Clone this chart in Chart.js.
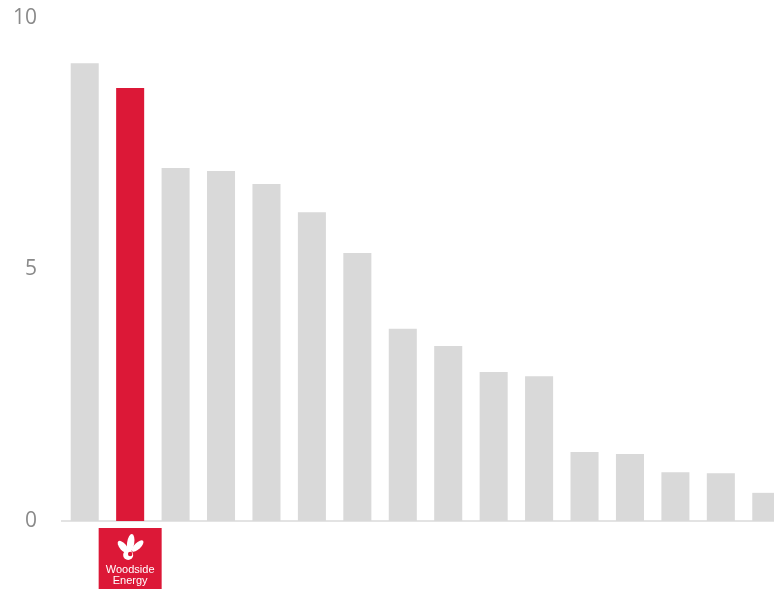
<!DOCTYPE html>
<html>
<head>
<meta charset="utf-8">
<script src="https://cdn.jsdelivr.net/npm/chart.js@4/dist/chart.umd.min.js"></script>
<style>
    body { margin: 0; background: #fff; overflow: hidden; }
    #wrap { width: 774px; height: 589px; overflow: hidden; }
</style>
</head>
<body>
<!-- canvas a bit wider than the page so the last bar runs off the right edge -->
<div id="wrap"><canvas id="peerChart" width="789" height="589"></canvas></div>
<script>
// companies, ranked
var categories = ["Peer 1", "Woodside Energy", "Peer 3", "Peer 4", "Peer 5", "Peer 6",
    "Peer 7", "Peer 8", "Peer 9", "Peer 10", "Peer 11", "Peer 12",
    "Peer 13", "Peer 14", "Peer 15", "Peer 16"];

var values = [9.1, 8.61, 7.02, 6.96, 6.7, 6.14, 5.33, 3.82, 3.48, 2.96, 2.88, 1.37, 1.33, 0.97, 0.95, 0.56];

var yTicks = [0, 5, 10];

var highlightIndex = 1;
var grey = "#d9d9d9";
var red = "#dc1837";

var barColors = [];
for (var i = 0; i < values.length; i++) {
    barColors.push(i === highlightIndex ? red : grey);
}

// logo box under the highlighted bar
var logoPlugin = {
    id: "logoBox",
    afterDraw: function (chart) {
        var ctx = chart.ctx;
        var xs = chart.scales.x;
        var cx = xs.getPixelForValue(highlightIndex);
        var top = chart.chartArea.bottom + 7;
        var w = 63, h = 61;
        ctx.save();
        ctx.fillStyle = red;
        ctx.fillRect(cx - w / 2, top, w, h);

        // leaves
        ctx.fillStyle = "#fff";
        var lx = cx, ly = top + 20;
        var leaves = [[-7, -1, -0.7, 3.4, 7.5], [0.5, -5, 0.15, 3.6, 9], [7.5, -2, 0.8, 3.2, 7.5]];
        leaves.forEach(function (l) {
            ctx.beginPath();
            ctx.ellipse(lx + l[0], ly + l[1], l[3], l[4], l[2], 0, Math.PI * 2);
            ctx.fill();
        });
        ctx.beginPath();
        ctx.arc(lx - 2, ly + 7, 5, 0, Math.PI * 2);
        ctx.fill();
        ctx.fillStyle = red;
        ctx.beginPath();
        ctx.arc(lx, ly + 6, 2.2, 0, Math.PI * 2);
        ctx.fill();

        ctx.fillStyle = "#fff";
        ctx.font = "11px 'Liberation Sans', Arial, sans-serif";
        ctx.textAlign = "center";
        ctx.textBaseline = "middle";
        ctx.fillText("Woodside", cx, top + 42);
        ctx.fillText("Energy", cx, top + 53);
        ctx.restore();
    }
};

var ctx = document.getElementById("peerChart").getContext("2d");
var chart = new Chart(ctx, {
    type: "bar",
    data: {
        labels: categories,
        datasets: [{
            data: values,
            backgroundColor: barColors,
            borderWidth: 0,
            barPercentage: 0.617,
            categoryPercentage: 1
        }]
    },
    options: {
        responsive: false,
        animation: false,
        layout: { padding: { top: 18, bottom: 68, right: 0, left: 0 } },
        plugins: {
            legend: { display: false },
            tooltip: { enabled: false }
        },
        scales: {
            x: {
                grid: { display: false, drawTicks: false },
                border: { display: true, color: "#e3e3e3", width: 2 },
                ticks: { display: false }
            },
            y: {
                min: 0,
                max: 10,
                afterFit: function (scale) {
                    scale.width = 62;
                    scale.paddingTop = 0;
                    scale.paddingBottom = 0;
                },
                afterBuildTicks: function (scale) {
                    scale.ticks = yTicks.map(function (v) { return { value: v }; });
                },
                grid: { display: false, drawTicks: false },
                border: { display: false },
                ticks: {
                    padding: 25,
                    color: "#8a8a8a",
                    font: { family: "'Open Sans', 'Noto Sans', sans-serif", size: 21 }
                }
            }
        }
    },
    plugins: [logoPlugin]
});
</script>
</body>
</html>
